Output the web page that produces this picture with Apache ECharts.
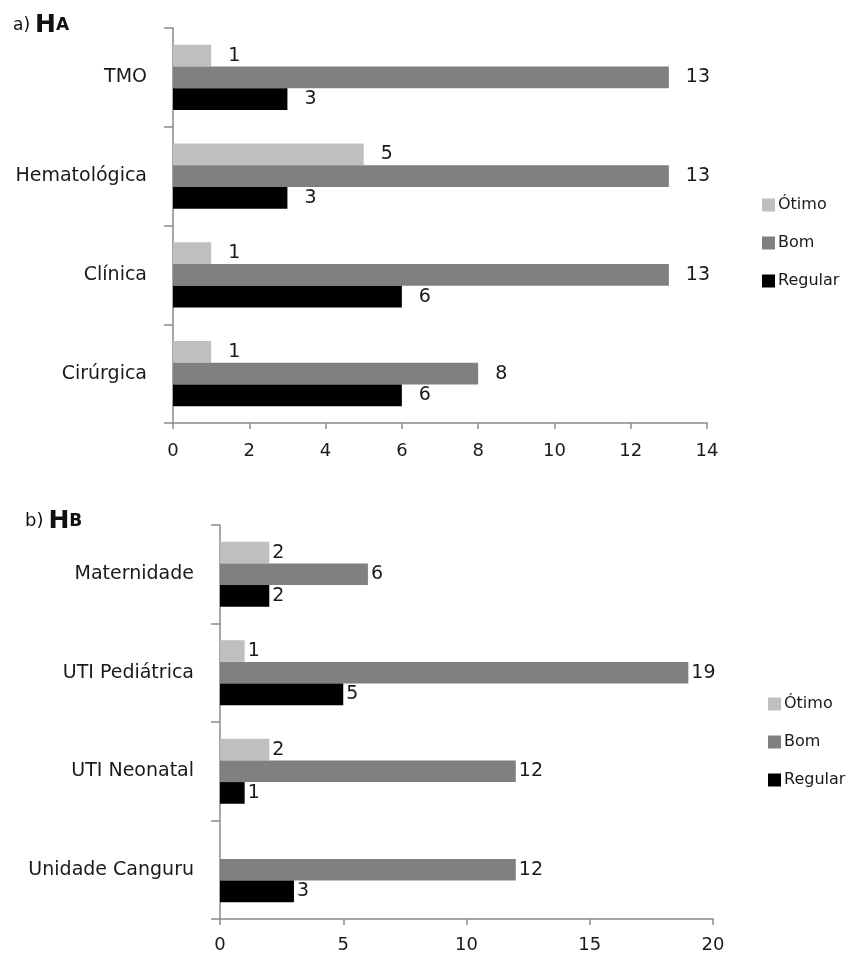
<!DOCTYPE html>
<html>
<head>
<meta charset="utf-8">
<script src="https://cdn.jsdelivr.net/npm/echarts@6/dist/echarts.min.js"></script>
<style>
html,body{margin:0;padding:0;background:#fff;}
#c{width:865px;height:959px;}
</style>
</head>
<body>
<div id="c"></div>
<script>
// Panel a) HA
var catsA = ['Cirúrgica', 'Clínica', 'Hematológica', 'TMO'];
var otimoA = [1, 1, 5, 1];
var bomA = [8, 13, 13, 13];
var regularA = [6, 6, 3, 3];
// Panel b) HB
var catsB = ['Unidade Canguru', 'UTI Neonatal', 'UTI Pediátrica', 'Maternidade'];
var otimoB = [null, 2, 1, 2];
var bomB = [12, 12, 19, 6];
var regularB = [3, 1, 5, 2];

var seriesNames = ['Ótimo', 'Bom', 'Regular'];
var colors = ['#bfbfbf', '#808080', '#000000'];
var FONT = 'DejaVu Sans';
var axisColor = '#8a8a8a';
var txt = '#1a1a1a';

function mkSeries(name, color, data, idx, labelDist, labelSize) {
  return {
    name: name, type: 'bar', data: data,
    xAxisIndex: idx, yAxisIndex: idx,
    barGap: '0%', barCategoryGap: '34%',
    itemStyle: { color: color },
    label: { show: true, position: 'right', distance: labelDist, color: txt,
             fontFamily: FONT, fontSize: labelSize },
    emphasis: { disabled: true },
    animation: false
  };
}

function valueAxis(idx, max, interval, margin) {
  return {
    gridIndex: idx, type: 'value', min: 0, max: max, interval: interval,
    splitLine: { show: false },
    axisLine: { show: true, lineStyle: { color: axisColor, width: 1.5 } },
    axisTick: { show: true, length: 6, lineStyle: { color: axisColor, width: 1.5 } },
    axisLabel: { color: txt, fontFamily: FONT, fontSize: 18, margin: margin }
  };
}
function catAxis(idx, cats) {
  return {
    gridIndex: idx, type: 'category', data: cats,
    axisLine: { show: true, lineStyle: { color: axisColor, width: 1.5 } },
    axisTick: { show: true, length: 9, lineStyle: { color: axisColor, width: 1.5 } },
    axisLabel: { color: txt, fontFamily: FONT, fontSize: 19, margin: 26 }
  };
}

var chart = echarts.init(document.getElementById('c'));
chart.setOption({
  backgroundColor: '#fff',
  animation: false,
  title: [
    { text: '{p|a)} {h|H}{s|A}', left: 8, top: 8,
      textStyle: { rich: {
        p: { fontFamily: FONT, fontSize: 17, fontWeight: 'normal', color: '#111' },
        h: { fontFamily: FONT, fontSize: 25, fontWeight: 'bold', color: '#111' },
        s: { fontFamily: FONT, fontSize: 17, fontWeight: 'bold', color: '#111' } } } },
    { text: '{p|b)} {h|H}{s|B}', left: 20, top: 504,
      textStyle: { rich: {
        p: { fontFamily: FONT, fontSize: 18, fontWeight: 'normal', color: '#111' },
        h: { fontFamily: FONT, fontSize: 25, fontWeight: 'bold', color: '#111' },
        s: { fontFamily: FONT, fontSize: 17, fontWeight: 'bold', color: '#111' } } } }
  ],
  legend: [
    { orient: 'vertical', left: 757, top: 192, itemWidth: 13, itemHeight: 13, itemGap: 22,
      icon: 'rect', data: seriesNames, selectedMode: false,
      textStyle: { fontFamily: FONT, fontSize: 16, color: txt, padding: [0, 0, 0, -2] } },
    { orient: 'vertical', left: 763, top: 691, itemWidth: 13, itemHeight: 13, itemGap: 22,
      icon: 'rect', data: seriesNames, selectedMode: false,
      textStyle: { fontFamily: FONT, fontSize: 16, color: txt, padding: [0, 0, 0, -2] } }
  ],
  grid: [
    { left: 173, right: 158, top: 28, height: 395, containLabel: false },
    { left: 220, right: 152, top: 525, height: 394, containLabel: false }
  ],
  xAxis: [ valueAxis(0, 14, 2, 19), valueAxis(1, 20, 5, 17) ],
  yAxis: [ catAxis(0, catsA), catAxis(1, catsB) ],
  series: [
    mkSeries('Ótimo', colors[0], otimoA, 0, 17, 19),
    mkSeries('Bom', colors[1], bomA, 0, 17, 19),
    mkSeries('Regular', colors[2], regularA, 0, 17, 19),
    mkSeries('Ótimo', colors[0], otimoB, 1, 3, 19),
    mkSeries('Bom', colors[1], bomB, 1, 3, 19),
    mkSeries('Regular', colors[2], regularB, 1, 3, 19)
  ]
});
</script>
</body>
</html>
